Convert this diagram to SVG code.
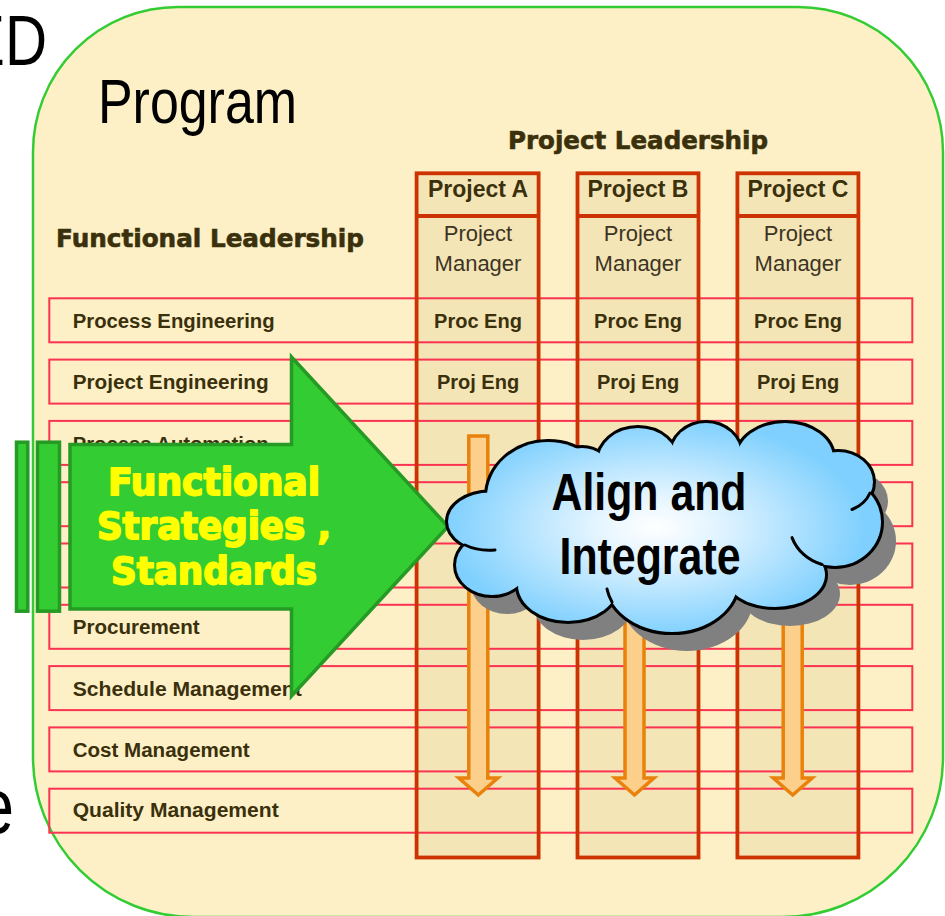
<svg xmlns="http://www.w3.org/2000/svg" xmlns:xlink="http://www.w3.org/1999/xlink" width="945" height="916" viewBox="0 0 945 916">
  <style>
    .bigtxt { font-family: 'Liberation Sans Narrow', 'Liberation Sans', Arial, sans-serif; fill: #000000; }
    .lead { font-family: 'DejaVu Sans', Verdana, sans-serif; font-weight: bold; font-size: 24px; fill: #3b300c; stroke: #3b300c; stroke-width: 0.6; }
    .rowbox { fill: none; stroke: #fb3352; stroke-width: 2; }
    .rowlbl { font-family: 'Liberation Sans', Arial, sans-serif; font-weight: bold; font-size: 20px; fill: #3b300c; }
    .colbg { fill: #f4e5b7; }
    .colbd { fill: none; stroke: #cc3300; stroke-width: 3.8; }
    .hdr { font-family: 'Liberation Sans', Arial, sans-serif; font-weight: bold; font-size: 23px; fill: #3b300c; text-anchor: middle; }
    .pm { font-family: 'Liberation Sans', Arial, sans-serif; font-size: 22px; fill: #3d3422; text-anchor: middle; }
    .cell { font-family: 'Liberation Sans', Arial, sans-serif; font-weight: bold; font-size: 20px; fill: #3b300c; text-anchor: middle; }
    .flow { fill: #fccf8a; stroke: #e8820c; stroke-width: 3.5; stroke-linejoin: miter; }
    .garrow { fill: #33cc33; stroke: #259a25; stroke-width: 3.5; stroke-linejoin: miter; }
    .gtxt { font-family: 'DejaVu Sans', Verdana, sans-serif; font-weight: bold; font-size: 37px; fill: #ffff00; stroke: #ffff00; stroke-width: 1.8; stroke-linejoin: round; text-anchor: middle; }
    .ctxt { font-family: 'Liberation Sans Narrow', 'Liberation Sans', Arial, sans-serif; font-weight: bold; font-size: 51px; fill: #000000; text-anchor: middle; }
    .tail { fill: none; stroke: #000000; stroke-width: 3; stroke-linecap: round; }
  </style>
  <defs>
    <radialGradient id="cloudGrad" gradientUnits="userSpaceOnUse" cx="655" cy="527" r="210" gradientTransform="translate(655 527) scale(1 0.52) translate(-655 -527)">
      <stop offset="0" stop-color="#ffffff"/>
      <stop offset="0.3" stop-color="#e2f4ff"/>
      <stop offset="1" stop-color="#7fd0fe"/>
    </radialGradient>
    <g id="cloudShape">
      <ellipse cx="490" cy="521.5" rx="42" ry="29"/>
      <ellipse cx="492" cy="565" rx="36" ry="30"/>
      <ellipse cx="568" cy="585" rx="50" ry="36"/>
      <ellipse cx="672" cy="580" rx="66" ry="52"/>
      <ellipse cx="775" cy="575" rx="50" ry="32"/>
      <ellipse cx="835" cy="522" rx="46" ry="44"/>
      <ellipse cx="838" cy="482" rx="35" ry="30"/>
      <ellipse cx="785" cy="458" rx="48" ry="35"/>
      <ellipse cx="706" cy="455" rx="35" ry="32"/>
      <ellipse cx="638" cy="462" rx="40" ry="34"/>
      <ellipse cx="582" cy="472" rx="28" ry="24"/>
      <ellipse cx="548" cy="497" rx="61" ry="55"/>
      <ellipse cx="665" cy="525" rx="165" ry="74"/>
    </g>
    <path id="downArrow" d="M -9.5 436 H 9.5 V 778 H 19.5 L 0 795 L -19.5 778 H -9.5 Z"/>
  </defs>

  <g id="background-text">
    <text class="bigtxt" x="-34" y="65" font-size="70" textLength="81" lengthAdjust="spacingAndGlyphs">ED</text>
    <text class="bigtxt" x="-22" y="833" font-size="78" textLength="36" lengthAdjust="spacingAndGlyphs">e</text>
  </g>

  <g id="program">
    <path d="M 33 152 A 145 145 0 0 1 178 7 L 798 7 A 145 145 0 0 1 943 152 L 943 757 A 160 160 0 0 1 783 917 L 193 917 A 160 160 0 0 1 33 757 Z" fill="#fdf0c7" stroke="#33cc33" stroke-width="2.5"/>
    <text class="bigtxt" x="98" y="123" font-size="63" textLength="199" lengthAdjust="spacingAndGlyphs">Program</text>
  </g>

  <g id="headings">
    <text class="lead" x="508" y="149" textLength="260" lengthAdjust="spacingAndGlyphs">Project Leadership</text>
    <text class="lead" x="56" y="247" textLength="308" lengthAdjust="spacingAndGlyphs">Functional Leadership</text>
  </g>

  <g id="column-fills">
    <rect class="colbg" x="416.6" y="173.3" width="122" height="684.2"/>
    <rect class="colbg" x="577.5" y="173.3" width="121" height="684.2"/>
    <rect class="colbg" x="737.4" y="173.3" width="121" height="684.2"/>
  </g>

  <g id="rows">
    <g id="row-process-engineering">
      <rect class="rowbox" x="49.3" y="298.3" width="863" height="44"/>
      <text class="rowlbl" x="72.7" y="328.3" textLength="202" lengthAdjust="spacingAndGlyphs">Process Engineering</text>
    </g>
    <g id="row-project-engineering">
      <rect class="rowbox" x="49.3" y="359.6" width="863" height="44"/>
      <text class="rowlbl" x="72.7" y="389.3" textLength="196" lengthAdjust="spacingAndGlyphs">Project Engineering</text>
    </g>
    <g id="row-process-automation">
      <rect class="rowbox" x="49.3" y="420.9" width="863" height="44"/>
      <text class="rowlbl" x="72.7" y="450.5" textLength="196" lengthAdjust="spacingAndGlyphs">Process Automation</text>
    </g>
    <g id="row-4">
      <rect class="rowbox" x="49.3" y="482.2" width="863" height="44"/>
    </g>
    <g id="row-5">
      <rect class="rowbox" x="49.3" y="543.5" width="863" height="44"/>
    </g>
    <g id="row-procurement">
      <rect class="rowbox" x="49.3" y="604.8" width="863" height="44"/>
      <text class="rowlbl" x="72.7" y="634.3" textLength="127" lengthAdjust="spacingAndGlyphs">Procurement</text>
    </g>
    <g id="row-schedule-management">
      <rect class="rowbox" x="49.3" y="666.1" width="863" height="44"/>
      <text class="rowlbl" x="72.7" y="695.6" textLength="229" lengthAdjust="spacingAndGlyphs">Schedule Management</text>
    </g>
    <g id="row-cost-management">
      <rect class="rowbox" x="49.3" y="727.4" width="863" height="44"/>
      <text class="rowlbl" x="72.7" y="756.5" textLength="177" lengthAdjust="spacingAndGlyphs">Cost Management</text>
    </g>
    <g id="row-quality-management">
      <rect class="rowbox" x="49.3" y="788.7" width="863" height="44"/>
      <text class="rowlbl" x="72.7" y="817" textLength="206" lengthAdjust="spacingAndGlyphs">Quality Management</text>
    </g>
  </g>

  <g id="columns">
    <g id="project-a">
      <rect class="colbd" x="416.6" y="173.3" width="122" height="684.2"/>
      <line class="colbd" x1="416.6" y1="216" x2="538.6" y2="216"/>
      <text class="hdr" x="478" y="197">Project A</text>
      <text class="pm" x="478" y="241">Project</text>
      <text class="pm" x="478" y="271">Manager</text>
      <text class="cell" x="478" y="328.3">Proc Eng</text>
      <text class="cell" x="478" y="389.3">Proj Eng</text>
    </g>
    <g id="project-b">
      <rect class="colbd" x="577.5" y="173.3" width="121" height="684.2"/>
      <line class="colbd" x1="577.5" y1="216" x2="698.5" y2="216"/>
      <text class="hdr" x="638" y="197">Project B</text>
      <text class="pm" x="638" y="241">Project</text>
      <text class="pm" x="638" y="271">Manager</text>
      <text class="cell" x="638" y="328.3">Proc Eng</text>
      <text class="cell" x="638" y="389.3">Proj Eng</text>
    </g>
    <g id="project-c">
      <rect class="colbd" x="737.4" y="173.3" width="121" height="684.2"/>
      <line class="colbd" x1="737.4" y1="216" x2="858.4" y2="216"/>
      <text class="hdr" x="798" y="197">Project C</text>
      <text class="pm" x="798" y="241">Project</text>
      <text class="pm" x="798" y="271">Manager</text>
      <text class="cell" x="798" y="328.3">Proc Eng</text>
      <text class="cell" x="798" y="389.3">Proj Eng</text>
    </g>
  </g>

  <g id="connectors">
    <use xlink:href="#downArrow" href="#downArrow" class="flow" transform="translate(478.3 0)"/>
    <use xlink:href="#downArrow" href="#downArrow" class="flow" transform="translate(634.5 0)"/>
    <use xlink:href="#downArrow" href="#downArrow" class="flow" transform="translate(792.7 0)"/>
  </g>

  <g id="functional-arrow">
    <rect class="garrow" x="16.5" y="442.2" width="11.3" height="169" stroke-width="3"/>
    <rect class="garrow" x="37.5" y="442.2" width="22" height="169" stroke-width="3"/>
    <polygon class="garrow" points="70,444.5 291.5,444.5 291.5,357 448,526.5 291.5,696 291.5,609 70,609"/>
    <text class="gtxt" x="214" y="495" textLength="212" lengthAdjust="spacingAndGlyphs">Functional</text>
    <text class="gtxt" x="214" y="539.3" textLength="234" lengthAdjust="spacingAndGlyphs">Strategies ,</text>
    <text class="gtxt" x="214" y="584" textLength="206" lengthAdjust="spacingAndGlyphs">Standards</text>
  </g>

  <g id="align-integrate-cloud">
    <use xlink:href="#cloudShape" href="#cloudShape" transform="translate(15 19)" fill="#808080"/>
    <use xlink:href="#cloudShape" href="#cloudShape" fill="none" stroke="#000000" stroke-width="6"/>
    <use xlink:href="#cloudShape" href="#cloudShape" fill="url(#cloudGrad)"/>
    <path class="tail" d="M 822 564.5 A 46 44 0 0 1 792 537.6"/>
    <path class="tail" d="M 870 493 A 35 30 0 0 1 852 509.5"/>
    <path class="tail" d="M 465 545 A 42 29 0 0 0 495 550"/>
    <path class="tail" d="M 612 602 A 66 52 0 0 1 607 589"/>
    <text class="ctxt" x="649" y="510" textLength="195" lengthAdjust="spacingAndGlyphs">Align and</text>
    <text class="ctxt" x="650" y="574" textLength="181" lengthAdjust="spacingAndGlyphs">Integrate</text>
  </g>
</svg>
